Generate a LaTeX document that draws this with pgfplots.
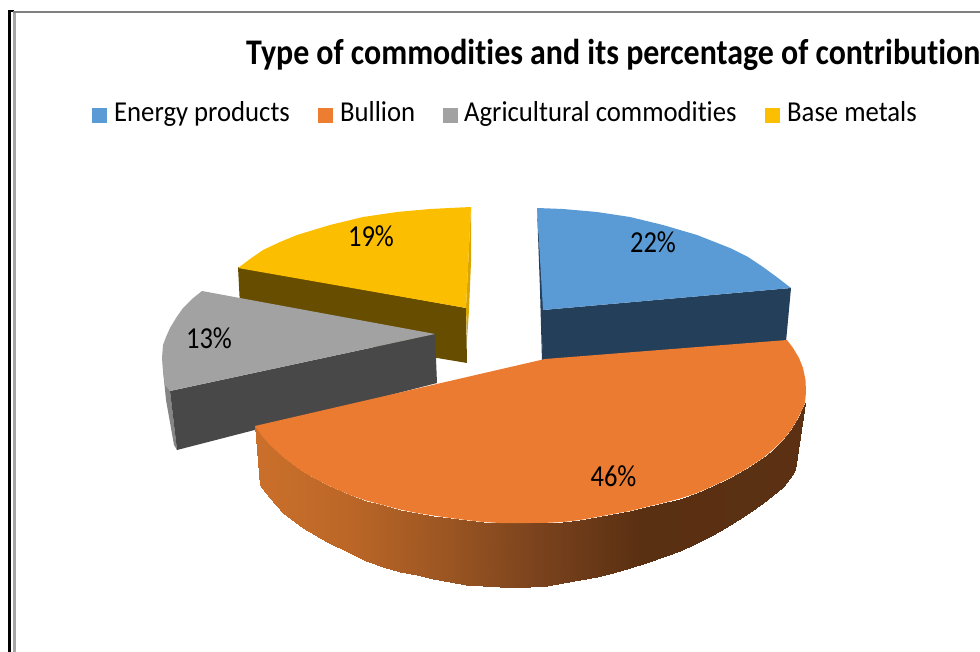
\documentclass[border=0pt]{standalone}
\usepackage{pgfplots}
\pgfplotsset{compat=1.18}
\usepackage{graphicx}
\usepackage{fontspec}
\setmainfont{Carlito}[Ligatures=NoCommon]
\definecolor{cBlue}{HTML}{5B9BD5}
\definecolor{cBlueD}{HTML}{243F5A}
\definecolor{cOrange}{HTML}{EB7B30}
\definecolor{cOrangeLeg}{HTML}{ED7D31}
\definecolor{cGray}{HTML}{A2A2A2}
\definecolor{cGrayD}{HTML}{484848}
\definecolor{cGrayS}{HTML}{858585}
\definecolor{cYellow}{HTML}{FBBE00}
\definecolor{cYellowD}{HTML}{664D00}
\definecolor{cYellowS}{HTML}{D9A600}
\begin{document}
\begin{tikzpicture}
\path[use as bounding box] (0,0) rectangle (980pt,652pt);
\begin{axis}[
  at={(0pt,0pt)}, anchor=south west,
  scale only axis, width=980pt, height=652pt,
  xmin=0, xmax=980, ymin=0, ymax=652, y dir=reverse,
  hide axis, clip=true,
  colormap={side}{rgb255(0pt)=(203,112,43); rgb255(95pt)=(187,102,39); rgb255(195pt)=(154,85,34); rgb255(275pt)=(125,68,30); rgb255(385pt)=(90,48,18); rgb255(551pt)=(92,49,19)},
]
% frame
\addplot[black, line width=2.6pt, forget plot] coordinates {(9.3,652) (9.3,11) (13.5,11)};
\addplot[black!50, line width=2pt, forget plot] coordinates {(13,11.7) (980,11.7)};
\addplot[black!35, line width=2.6pt, forget plot] coordinates {(14.3,652) (14.3,12.7)};

% Energy products
\addplot[fill=cBlueD, draw=none, forget plot] coordinates {(791,288) (786,342) (542,362) (543,310)} --cycle;
\addplot[fill=cBlueD, draw=none, forget plot] coordinates {(537,208) (540,290) (542,362) (544,310)} --cycle;
\addplot[fill=cBlue, draw=none, forget plot] coordinates {(537,208) (563,209) (597,212) (630,217) (663,225) (697,235) (730,248) (748,257) (763,267) (778,278) (791,288) (543,310)} --cycle;

% Base metals
\addplot[fill=cYellowD, draw=none, forget plot] coordinates {(238,267) (466,308) (467,363) (241,325)} --cycle;
\addplot[fill=cYellowS, draw=none, forget plot] coordinates {(471,207) (471,262) (469,310) (467,340) (466,308)} --cycle;
\addplot[fill=cYellow, draw=none, forget plot] coordinates {(471,207) (450,208) (430,209) (397,212) (363,217) (330,225) (297,235) (280,242) (263,250) (250,259) (238,268) (466,308)} --cycle;

% Agricultural commodities
\addplot[fill=cGrayS, draw=none, forget plot] coordinates {(163,370) (170,391) (177,450) (174,445) (166,400)} --cycle;
\addplot[fill=cGrayD, draw=none, forget plot] coordinates {(170,391) (435,334) (437,383) (177,450)} --cycle;
\addplot[fill=cGray, draw=none, forget plot] coordinates {(202,291) (192,299) (183,308) (176,318) (170,328) (166,337) (163,345) (162,358) (163,372) (165,385) (170,391) (435,334)} --cycle;

% Bullion: outer wall, then top face
\addplot[surf, shader=interp, point meta=x, colormap name=side, point meta min=255, point meta max=806, mesh/rows=2, forget plot] table {
x y
255 426
262 436
270 445
283 457
303 472
327 485
350 495
366 500.5
383 505
400 509.5
417 513
433 515.5
450 518
466 520
483 522
500 523
517 523
530 523
547 522.8
563 522
580 520
597 517
613 514
630 511
646 507
663 503
680 498.5
697 493
713 486
730 478
746 469
763 458
773 449.5
783 440
791 430
797 420
801 412
805 403
260 485
265 492
270 498
283 513
303 528
327 542
350 553
366 560.5
383 567
400 571.5
417 575
433 579
450 582
466 584.5
483 586
500 587
517 587
530 587
547 585.5
563 583
580 580
597 577
613 572.5
630 568
646 563
663 557
680 550.5
697 543
713 534.5
730 525
746 514.5
763 503
773 495
783 487
790 478
795 470
800 437
805 403
};
\addplot[fill=cOrange, draw=none, forget plot] coordinates {(787,340) (793,348) (799,358) (803,368) (805.5,380) (806,392) (805,403) (801,412) (797,420) (791,430) (783,440) (773,449.5) (763,458) (746,469) (730,478) (713,486) (697,493) (680,498.5) (663,503) (646,507) (630,511) (613,514) (597,517) (580,520) (563,522) (547,522.8) (530,523) (517,523) (500,523) (483,522) (466,520) (450,518) (433,515.5) (417,513) (400,509.5) (383,505) (366,500.5) (350,495) (327,485) (303,472) (283,457) (270,445) (262,436) (255,426) (545,359)} --cycle;

% legend keys
\addplot[fill=cBlue, draw=none, forget plot] coordinates {(92,108) (107,108) (107,123) (92,123)} --cycle;
\addplot[fill=cOrangeLeg, draw=none, forget plot] coordinates {(318,108) (333,108) (333,123) (318,123)} --cycle;
\addplot[fill=cGray, draw=none, forget plot] coordinates {(443,108) (458,108) (458,123) (443,123)} --cycle;
\addplot[fill=cYellow, draw=none, forget plot] coordinates {(765,108) (780,108) (780,123) (765,123)} --cycle;

% text
\node[anchor=base west, inner sep=0pt, font=\fontsize{31.9}{31.9}\selectfont\bfseries] at (axis cs:246,65) {\scalebox{1}[1.13]{Type of commodities and its percentage of contribution}};
\tikzset{leg/.style={anchor=base west, inner sep=0pt, font=\fontsize{26.7}{26.7}\selectfont}, dl/.style={anchor=center, inner sep=0pt, font=\fontsize{26.5}{26.5}\selectfont}}
\node[leg] at (axis cs:114,122) {\scalebox{1}[1.08]{Energy products}};
\node[leg] at (axis cs:340,122) {\scalebox{1}[1.08]{Bullion}};
\node[leg] at (axis cs:464,122) {\scalebox{1}[1.08]{Agricultural commodities}};
\node[leg] at (axis cs:787,122) {\scalebox{1}[1.08]{Base metals}};
\node[dl] at (axis cs:653,242) {\scalebox{1}[1.15]{22\%}};
\node[dl] at (axis cs:613.5,476) {\scalebox{1}[1.15]{46\%}};
\node[dl] at (axis cs:209,338) {\scalebox{1}[1.15]{13\%}};
\node[dl] at (axis cs:371,236) {\scalebox{1}[1.15]{19\%}};
\end{axis}
\end{tikzpicture}
\end{document}
